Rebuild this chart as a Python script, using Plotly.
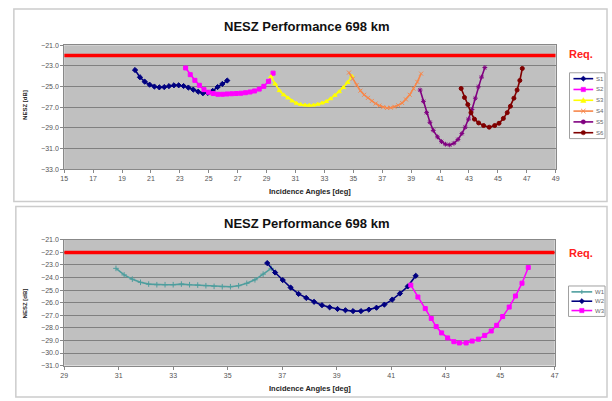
import plotly.graph_objects as go

W, H = 612, 401

# ---------------- data: top chart (S1..S6) ----------------
s1_x = [19.90, 20.24, 20.57, 20.91, 21.24, 21.58, 21.92, 22.25, 22.59, 22.92,
        23.26, 23.59, 23.93, 24.27, 24.60, 24.94, 25.27, 25.61, 25.94, 26.28]
s1_y = [-23.4, -24.1, -24.53, -24.82, -25.0, -25.08, -25.05, -24.96, -24.88, -24.88,
        -24.95, -25.1, -25.3, -25.5, -25.65, -25.62, -25.42, -25.05, -24.75, -24.42]

s2_x = [23.40, 23.72, 24.04, 24.35, 24.67, 24.99, 25.31, 25.63, 25.95, 26.26,
        26.58, 26.90, 27.22, 27.54, 27.86, 28.17, 28.49, 28.81, 29.13, 29.45]
s2_y = [-23.2, -23.85, -24.4, -24.88, -25.3, -25.55, -25.68, -25.75, -25.75, -25.72,
        -25.7, -25.68, -25.65, -25.6, -25.53, -25.43, -25.25, -24.98, -24.5, -23.7]

s3_x = [29.30, 29.59, 29.89, 30.18, 30.48, 30.77, 31.07, 31.36, 31.66, 31.95,
        32.25, 32.54, 32.84, 33.13, 33.43, 33.72, 34.02, 34.31, 34.61, 34.90]
s3_y = [-24.05, -24.75, -25.4, -25.8, -26.1, -26.4, -26.62, -26.74, -26.8, -26.82,
        -26.8, -26.72, -26.6, -26.45, -26.18, -25.85, -25.5, -25.1, -24.6, -24.0]

s4_x = [34.70, 34.96, 35.23, 35.49, 35.75, 36.01, 36.28, 36.54, 36.80, 37.06,
        37.33, 37.59, 37.85, 38.11, 38.38, 38.64, 38.90, 39.16, 39.43, 39.69]
s4_y = [-23.65, -24.25, -24.85, -25.4, -25.8, -26.1, -26.4, -26.65, -26.85, -27.0,
        -27.08, -27.05, -26.97, -26.82, -26.6, -26.25, -25.8, -25.2, -24.55, -23.75]

s5_x = [39.62, 39.85, 40.07, 40.30, 40.53, 40.82, 41.10, 41.37, 41.67, 41.96,
        42.24, 42.51, 42.74, 42.97, 43.21, 43.44, 43.65, 43.87, 44.10]
s5_y = [-25.34, -26.44, -27.53, -28.47, -29.25, -29.88, -30.34, -30.59, -30.66, -30.5,
        -30.13, -29.56, -28.94, -28.16, -27.22, -26.13, -25.03, -24.09, -23.16]

s6_x = [42.46, 42.69, 42.92, 43.14, 43.38, 43.67, 44.01, 44.40, 44.78, 45.08,
        45.38, 45.65, 45.87, 46.11, 46.33, 46.52, 46.69]
s6_y = [-25.19, -26.06, -26.75, -27.53, -28.16, -28.53, -28.78, -28.94, -28.78, -28.56,
        -28.09, -27.53, -26.91, -26.13, -25.34, -24.41, -23.25]

top_req_x = [15, 49]
top_req_y = [-22, -22]

# ---------------- data: bottom chart (W1..W3) ----------------
w1_x = [30.90, 31.20, 31.50, 31.80, 32.10, 32.40, 32.70, 33.00, 33.30, 33.60,
        33.90, 34.20, 34.50, 34.80, 35.10, 35.40, 35.70, 36.00, 36.30, 36.60]
w1_y = [-23.27, -23.79, -24.13, -24.38, -24.52, -24.57, -24.57, -24.57, -24.52, -24.57,
        -24.6, -24.65, -24.7, -24.73, -24.73, -24.65, -24.46, -24.18, -23.73, -23.27]

w2_x = [36.45, 36.74, 37.02, 37.31, 37.60, 37.88, 38.17, 38.46, 38.74, 39.03,
        39.32, 39.60, 39.89, 40.18, 40.46, 40.75, 41.04, 41.32, 41.61, 41.90]
w2_y = [-22.85, -23.6, -24.2, -24.8, -25.3, -25.62, -25.93, -26.2, -26.37, -26.5,
        -26.6, -26.67, -26.67, -26.55, -26.4, -26.15, -25.75, -25.27, -24.7, -23.86]

w3_x = [41.72, 41.98, 42.25, 42.47, 42.65, 42.85, 43.07, 43.30, 43.50, 43.75,
        43.97, 44.20, 44.43, 44.67, 44.87, 45.09, 45.33, 45.56, 45.80, 46.03]
w3_y = [-24.6, -25.55, -26.47, -27.25, -27.9, -28.4, -28.8, -29.1, -29.2, -29.2,
        -29.05, -28.9, -28.6, -28.25, -27.8, -27.1, -26.35, -25.47, -24.45, -23.2]

bot_req_x = [29, 47]
bot_req_y = [-22, -22]

top_xticks = list(range(15, 50, 2))
bot_xticks = list(range(29, 48, 2))

title_text = "NESZ Performance 698 km"
xtitle_text = "Incidence Angles [deg]"
ytitle_text = "NESZ [dB]"
req_text = "Req."

# ---------------- helpers (pixel -> paper) ----------------
def px(x):
    return x / W

def py(y):
    return 1 - y / H

fig = go.Figure()

top_series = [
    ("S1", s1_x, s1_y, "#000080", "diamond"),
    ("S2", s2_x, s2_y, "#FF00FF", "square"),
    ("S3", s3_x, s3_y, "#FFFF00", "triangle-up"),
    ("S4", s4_x, s4_y, "#F7874A", "x-thin"),
    ("S5", s5_x, s5_y, "#800080", "asterisk"),
    ("S6", s6_x, s6_y, "#800000", "circle"),
]
bot_series = [
    ("W1", w1_x, w1_y, "#4E9E9E", "cross-thin"),
    ("W2", w2_x, w2_y, "#000080", "diamond"),
    ("W3", w3_x, w3_y, "#FF00FF", "square"),
]

fig.add_trace(go.Scatter(x=top_req_x, y=top_req_y, mode="lines",
                         line=dict(color="#FF0000", width=3.5),
                         showlegend=False, hoverinfo="skip",
                         xaxis="x", yaxis="y"))
for name, xs, ys, col, sym in top_series:
    fig.add_trace(go.Scatter(
        x=xs, y=ys, name=name, mode="lines+markers",
        line=dict(color=col, width=1.6),
        marker=dict(color=col, symbol=sym, size=4,
                    line=dict(color=col, width=1)),
        xaxis="x", yaxis="y", showlegend=False))

fig.add_trace(go.Scatter(x=bot_req_x, y=bot_req_y, mode="lines",
                         line=dict(color="#FF0000", width=3.5),
                         showlegend=False, hoverinfo="skip",
                         xaxis="x2", yaxis="y2"))
for name, xs, ys, col, sym in bot_series:
    fig.add_trace(go.Scatter(
        x=xs, y=ys, name=name, mode="lines+markers",
        line=dict(color=col, width=1.6),
        marker=dict(color=col, symbol=sym, size=4,
                    line=dict(color=col, width=1)),
        xaxis="x2", yaxis="y2", showlegend=False))

tickfont = dict(family="Liberation Sans, Arial, sans-serif", size=7, color="#555555")
axis_common = dict(
    showline=True, mirror=True, linecolor="#888888", linewidth=1,
    ticks="outside", ticklen=3, tickcolor="#888888",
    tickfont=tickfont, zeroline=False,
)

fig.update_layout(
    width=W, height=H,
    margin=dict(l=0, r=0, t=0, b=0),
    paper_bgcolor="white",
    plot_bgcolor="#C0C0C0",
    font=dict(family="Liberation Sans, Arial, sans-serif"),
    showlegend=False,
    xaxis=dict(domain=[px(61), px(559)], range=[15, 49], tickvals=top_xticks,
               anchor="y", showgrid=False, **axis_common),
    yaxis=dict(domain=[py(168), py(42)], range=[-33, -21], dtick=2, tick0=-33,
               tickformat=".1f", anchor="x", showgrid=True,
               gridcolor="#808080", gridwidth=1.2, **axis_common),
    xaxis2=dict(domain=[px(61), px(558)], range=[29, 47], tickvals=bot_xticks,
                anchor="y2", showgrid=False, **axis_common),
    yaxis2=dict(domain=[py(368), py(240)], range=[-31, -21], dtick=1, tick0=-31,
                tickformat=".1f", anchor="x2", showgrid=True,
                gridcolor="#808080", gridwidth=1.2, **axis_common),
)

shapes = []
ann = []

# chart frames
shapes.append(dict(type="rect", xref="paper", yref="paper",
                   x0=px(10), x1=px(611), y0=py(201), y1=py(5),
                   line=dict(color="#CCCCCC", width=1.5), layer="below"))
shapes.append(dict(type="rect", xref="paper", yref="paper",
                   x0=px(12), x1=px(611), y0=py(400), y1=py(206),
                   line=dict(color="#CCCCCC", width=1.5), layer="below"))

# titles, axis titles, Req. labels
for ty, xy_, yy_, ry in [(23, 191, 103, 51), (223, 391, 305, 253)]:
    ann.append(dict(text=f"<b>{title_text}</b>", x=px(306), y=py(ty),
                    xref="paper", yref="paper", showarrow=False,
                    xanchor="center", yanchor="middle",
                    font=dict(size=13, color="#111111")))
    ann.append(dict(text=f"<b>{xtitle_text}</b>", x=px(310), y=py(xy_),
                    xref="paper", yref="paper", showarrow=False,
                    xanchor="center", yanchor="middle",
                    font=dict(size=7.5, color="#222222")))
    ann.append(dict(text=f"<b>{ytitle_text}</b>", x=px(21), y=py(yy_),
                    xref="paper", yref="paper", showarrow=False, textangle=-90,
                    xanchor="center", yanchor="middle",
                    font=dict(size=6, color="#222222")))
    ann.append(dict(text=f"<b>{req_text}</b>", x=px(570), y=py(ry),
                    xref="paper", yref="paper", showarrow=False,
                    xanchor="left", yanchor="middle",
                    font=dict(size=11, color="#FF2020")))

# compact legends (Excel style)
def marker_shapes(cx, cy, sym, col):
    r = 2.2
    out = []
    if sym in ("square",):
        out.append(dict(type="rect", x0=px(cx - r), x1=px(cx + r), y0=py(cy + r), y1=py(cy - r),
                        fillcolor=col, line=dict(color=col, width=0.5)))
    elif sym in ("diamond",):
        path = (f"M {px(cx)},{py(cy - r - 0.5)} L {px(cx + r + 0.5)},{py(cy)} "
                f"L {px(cx)},{py(cy + r + 0.5)} L {px(cx - r - 0.5)},{py(cy)} Z")
        out.append(dict(type="path", path=path, fillcolor=col, line=dict(color=col, width=0.5)))
    elif sym in ("triangle-up",):
        path = (f"M {px(cx)},{py(cy - r - 0.5)} L {px(cx + r + 0.5)},{py(cy + r)} "
                f"L {px(cx - r - 0.5)},{py(cy + r)} Z")
        out.append(dict(type="path", path=path, fillcolor=col, line=dict(color=col, width=0.5)))
    elif sym in ("x-thin",):
        out.append(dict(type="line", x0=px(cx - r), x1=px(cx + r), y0=py(cy - r), y1=py(cy + r),
                        line=dict(color=col, width=1)))
        out.append(dict(type="line", x0=px(cx - r), x1=px(cx + r), y0=py(cy + r), y1=py(cy - r),
                        line=dict(color=col, width=1)))
    elif sym in ("cross-thin",):
        out.append(dict(type="line", x0=px(cx), x1=px(cx), y0=py(cy - r), y1=py(cy + r),
                        line=dict(color=col, width=1)))
    else:
        out.append(dict(type="circle", x0=px(cx - r), x1=px(cx + r), y0=py(cy + r), y1=py(cy - r),
                        fillcolor=col, line=dict(color=col, width=0.5)))
    for o in out:
        o.update(xref="paper", yref="paper")
    return out

def add_legend(series, box, first_y, step, lx0, lx1, tx):
    x0, y0, x1, y1 = box
    shapes.append(dict(type="rect", xref="paper", yref="paper",
                       x0=px(x0), x1=px(x1), y0=py(y1), y1=py(y0),
                       fillcolor="white", line=dict(color="#A0A0A0", width=1)))
    for i, (name, _xs, _ys, col, sym) in enumerate(series):
        cy = first_y + i * step
        shapes.append(dict(type="line", xref="paper", yref="paper",
                           x0=px(lx0), x1=px(lx1), y0=py(cy), y1=py(cy),
                           line=dict(color=col, width=1.6)))
        shapes.extend(marker_shapes((lx0 + lx1) / 2, cy, sym, col))
        ann.append(dict(text=name, x=px(tx), y=py(cy), xref="paper", yref="paper",
                        showarrow=False, xanchor="left", yanchor="middle",
                        font=dict(size=6, color="#666666")))

add_legend(top_series, (573, 70, 609, 137), 76, 11, 577, 597, 598)
add_legend(bot_series, (572, 287, 609, 318), 293, 9.5, 575, 596, 597)

fig.update_layout(shapes=shapes, annotations=ann)

fig.write_html("out.html")
